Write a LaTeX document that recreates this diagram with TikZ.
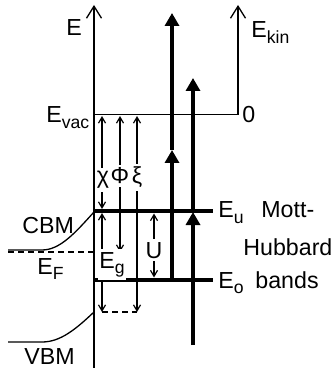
\documentclass[tikz,border=0pt]{standalone}
\usepackage{fontspec}
\setmainfont{Liberation Sans}
\usetikzlibrary{arrows.meta}
\newcommand{\lsub}[1]{\raisebox{-2.7pt}{\fontsize{8.8}{10}\selectfont #1}}

\begin{document}
\begin{tikzpicture}[x=0.5pt, y=-0.5pt,
  every node/.style={font=\fontsize{11.6}{13}\selectfont, inner sep=0pt},
  axis/.style={line width=0.65pt, -{Straight Barb[length=6pt,width=7.5pt]}},
  gaparrow/.style={line width=0.6pt, {Straight Barb[length=3pt,width=3.5pt]}-{Straight Barb[length=3pt,width=3.5pt]}},
  band/.style={line width=2.4pt},
  photon/.style={line width=2.2pt, -{Triangle[length=6.5pt,width=7pt]}},
  level/.style={line width=0.6pt, dash pattern=on 3pt off 2pt},
  lbl/.style={anchor=base west},
  cut/.style={anchor=base, fill=white, inner xsep=0.5pt, inner ysep=1.5pt}]
  \useasboundingbox (0,0) rectangle (331,368);
  % axes and vacuum level
  \coordinate (Ebot) at (94,368);
  \coordinate (Etop) at (94,5);
  \coordinate (vacL) at (94,115);
  \coordinate (vacR) at (238,115);
  \coordinate (kinTop) at (238,5);
  \draw[axis] (Ebot) -- (Etop);
  \draw[line width=0.5pt] (vacL) -- (vacR);
  \draw[axis] (vacR) -- (kinTop);
  \node[lbl] (Elab) at (66,36) {E};
  \node[lbl] (Ekin) at (251,38) {E\lsub{kin}};
  \node[lbl] (Evac) at (46,123) {E\lsub{vac}};
  \node[lbl] (zero) at (242,123) {0};
  % band bending
  \coordinate (cbmS) at (94,212);
  \coordinate (vbmS) at (94,312);
  \draw[line width=0.65pt] (cbmS) .. controls (75,233) and (60,250) .. (42,250) -- (8,250);
  \draw[line width=0.65pt] (vbmS) .. controls (75,330) and (60,342) .. (42,342) -- (8,342);
  \draw[level] (8,252) -- (94,252);
  \node[lbl] (cbm) at (22,234) {CBM};
  \node[lbl] (ef) at (37,274) {E\lsub{F}};
  \node[lbl] (vbm) at (24,364) {VBM};
  % Mott-Hubbard bands
  \coordinate (EuL) at (94,211);
  \coordinate (EuR) at (213,211);
  \coordinate (EoL) at (94,280);
  \coordinate (EoR) at (213,280);
  \draw[band] (EuL) -- (EuR);
  \draw[band] (EoL) -- (EoR);
  \node[lbl] (Eu) at (218,218) {E\lsub{u}};
  \node[lbl] (Eo) at (218,288) {E\lsub{o}};
  \node[lbl] (mott) at (261,218) {Mott-};
  \node[lbl] (hub) at (243,255) {Hubbard};
  \node[lbl] (bands) at (255,288) {bands};
  % energy differences
  \draw[gaparrow] (102,116) -- (102,209);
  \draw[gaparrow] (102,213) -- (102,312);
  \draw[gaparrow] (120,116) -- (120,252);
  \draw[gaparrow] (137,116) -- (137,312);
  \draw[gaparrow] (154,213.5) -- (154,277.5);
  \draw[level] (102,312) -- (137,312);
  \foreach \x/\lab/\nm in {103/χ/chi, 120/Φ/phi, 137/ξ/xi}
    \node[cut] (\nm) at (\x,184) {\lab};
  \node[cut, anchor=base west] (eg) at (98,268) {E\lsub{g}};
  \node[cut] (u) at (154,258) {U};
  % photon / electron paths
  \draw[photon] (172,280) -- (172,150);
  \draw[photon] (172,150) -- (172,13);
  \draw[photon] (193,345) -- (193,212);
  \draw[photon] (193,212) -- (193,78);
\end{tikzpicture}
\end{document}
